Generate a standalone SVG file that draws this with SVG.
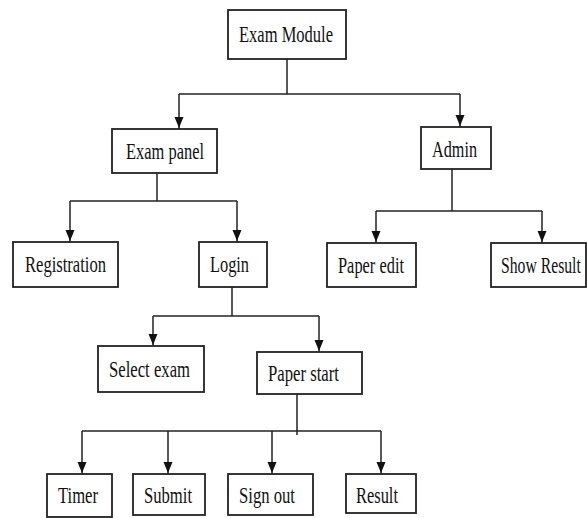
<svg xmlns="http://www.w3.org/2000/svg" width="587" height="518" viewBox="0 0 587 518">
<style>
.box{fill:#fff;stroke:#222;stroke-width:1.8}
.lbl{font-family:"Liberation Serif","Times New Roman",serif;font-size:24px;fill:#111;text-anchor:start}
.ln{fill:none;stroke:#222;stroke-width:1.5}
</style>
<defs>
<marker id="ah" markerUnits="userSpaceOnUse" markerWidth="10" markerHeight="12" viewBox="0 0 10 12" refX="5" refY="12" orient="0">
<path d="M0.5,0 L9.5,0 L5,11 Z" fill="#111"/>
</marker>
</defs>
<rect width="587" height="518" fill="#fff"/>
<g id="connectors">
<path class="ln" d="M287,59 V94"/>
<path class="ln" d="M179,94 H460"/>
<path class="ln" d="M179,94 V129" marker-end="url(#ah)"/>
<path class="ln" d="M460,94 V127" marker-end="url(#ah)"/>
<path class="ln" d="M452,169 V211"/>
<path class="ln" d="M376,211 H542"/>
<path class="ln" d="M376,211 V243" marker-end="url(#ah)"/>
<path class="ln" d="M542,211 V243" marker-end="url(#ah)"/>
<path class="ln" d="M157,173 V201"/>
<path class="ln" d="M70,201 H237"/>
<path class="ln" d="M70,201 V242" marker-end="url(#ah)"/>
<path class="ln" d="M237,201 V242" marker-end="url(#ah)"/>
<path class="ln" d="M232,287 V316"/>
<path class="ln" d="M153,316 H319"/>
<path class="ln" d="M153,316 V346" marker-end="url(#ah)"/>
<path class="ln" d="M319,316 V352" marker-end="url(#ah)"/>
<path class="ln" d="M297,394 V435"/>
<path class="ln" d="M82,431 H381"/>
<path class="ln" d="M82,431 V474" marker-end="url(#ah)"/>
<path class="ln" d="M168,431 V474" marker-end="url(#ah)"/>
<path class="ln" d="M272,431 V474" marker-end="url(#ah)"/>
<path class="ln" d="M381,431 V474" marker-end="url(#ah)"/>
</g>
<g id="exam-module"><rect class="box" x="228" y="10" width="118" height="49"/><text class="lbl" x="239" y="42" textLength="94" lengthAdjust="spacingAndGlyphs">Exam Module</text></g>
<g id="exam-panel"><rect class="box" x="112" y="129" width="105" height="44"/><text class="lbl" x="126" y="159" textLength="78" lengthAdjust="spacingAndGlyphs">Exam panel</text></g>
<g id="admin"><rect class="box" x="421" y="127" width="70" height="42"/><text class="lbl" x="432" y="157" textLength="45" lengthAdjust="spacingAndGlyphs">Admin</text></g>
<g id="registration"><rect class="box" x="13" y="242" width="105" height="45"/><text class="lbl" x="25" y="272" textLength="81" lengthAdjust="spacingAndGlyphs">Registration</text></g>
<g id="login"><rect class="box" x="199" y="242" width="68" height="45"/><text class="lbl" x="210" y="272" textLength="39" lengthAdjust="spacingAndGlyphs">Login</text></g>
<g id="paper-edit"><rect class="box" x="327" y="243" width="89" height="44"/><text class="lbl" x="338" y="273" textLength="66" lengthAdjust="spacingAndGlyphs">Paper edit</text></g>
<g id="show-result"><rect class="box" x="491" y="243" width="95" height="44"/><text class="lbl" transform="translate(501,273) scale(0.655,1)" x="0" y="0">Show Result</text></g>
<g id="select-exam"><rect class="box" x="98" y="346" width="106" height="46"/><text class="lbl" x="109" y="377" textLength="81" lengthAdjust="spacingAndGlyphs">Select exam</text></g>
<g id="paper-start"><rect class="box" x="257" y="352" width="105" height="42"/><text class="lbl" x="268" y="381" textLength="71" lengthAdjust="spacingAndGlyphs">Paper start</text></g>
<g id="timer"><rect class="box" x="47" y="474" width="65" height="43"/><text class="lbl" x="58" y="503" textLength="40" lengthAdjust="spacingAndGlyphs">Timer</text></g>
<g id="submit"><rect class="box" x="133" y="474" width="72" height="41"/><text class="lbl" x="144" y="503" textLength="48" lengthAdjust="spacingAndGlyphs">Submit</text></g>
<g id="sign-out"><rect class="box" x="228" y="474" width="85" height="41"/><text class="lbl" x="239" y="503" textLength="56" lengthAdjust="spacingAndGlyphs">Sign out</text></g>
<g id="result"><rect class="box" x="346" y="474" width="70" height="39"/><text class="lbl" x="356" y="503" textLength="42" lengthAdjust="spacingAndGlyphs">Result</text></g>
</svg>
